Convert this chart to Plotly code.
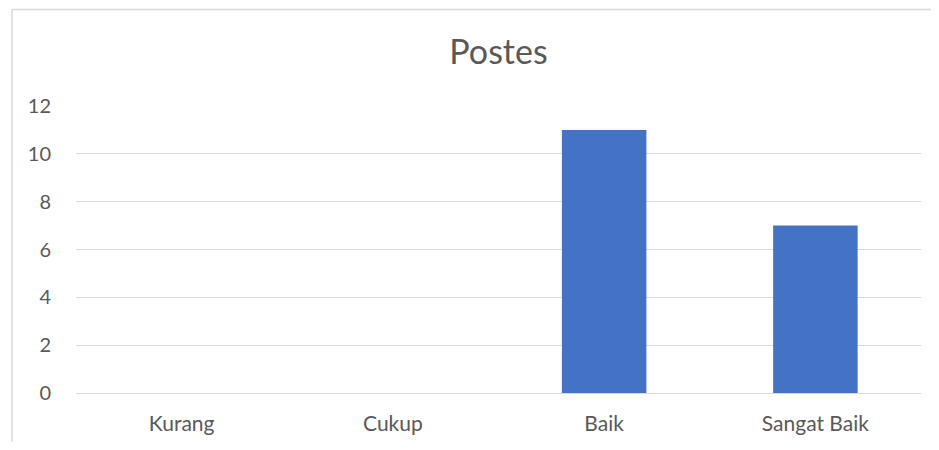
import plotly.graph_objects as go

categories = ["Kurang", "Cukup", "Baik", "Sangat Baik"]
values = [0, 0, 11, 7]
y_ticks = [0, 2, 4, 6, 8, 10, 12]
title_text = "Postes"

font_family = "Lato, 'Open Sans', sans-serif"
text_color = "#595959"
border_color = "#D9D9D9"

# page has an 8px body margin; size the figure so it fits the window exactly
OFF = 8
W, H = 939 - 2 * OFF, 450 - 2 * OFF
L, T = 76 - OFF, 106 - OFF
R = (OFF + W) - 921
B = (OFF + H) - 393
pw = W - L - R
ph = H - T - B

bx0 = (12 - 76) / pw
bx1 = (W + OFF + 20 - 76) / pw
by0 = (393 - 470) / ph
by1 = (393 - 9.5) / ph

fig = go.Figure(
    go.Bar(x=categories, y=values, marker=dict(color="#4472C4", line=dict(width=0)))
)

fig.update_layout(
    width=W,
    height=H,
    margin=dict(l=L, r=R, t=T, b=B, autoexpand=False),
    paper_bgcolor="white",
    plot_bgcolor="white",
    bargap=0.6,
    showlegend=False,
    title=dict(
        text=title_text,
        x=0.5,
        xref="paper",
        xanchor="center",
        y=1 - (52 - OFF) / H,
        yref="container",
        yanchor="middle",
        font=dict(family=font_family, size=34, color=text_color),
    ),
    font=dict(family=font_family, size=20, color=text_color),
    shapes=[
        dict(type="line", xref="paper", yref="paper",
             x0=bx0, x1=bx0, y0=by0, y1=by1,
             line=dict(color=border_color, width=1.5), layer="below"),
        dict(type="line", xref="paper", yref="paper",
             x0=bx0, x1=bx1, y0=by1, y1=by1,
             line=dict(color=border_color, width=1.5), layer="below"),
    ],
)

fig.update_xaxes(
    showgrid=False,
    showline=False,
    zeroline=False,
    ticks="",
    automargin=False,
    ticklabelstandoff=16,
    tickfont=dict(size=21, color=text_color),
)
fig.update_yaxes(
    range=[0, 12],
    tickvals=y_ticks,
    showgrid=True,
    gridcolor=border_color,
    gridwidth=1.2,
    zeroline=True,
    zerolinecolor=border_color,
    zerolinewidth=1.2,
    showline=False,
    ticks="",
    automargin=False,
    ticklabelstandoff=24,
    tickfont=dict(size=20, color=text_color),
)

fig.write_html("out.html")
